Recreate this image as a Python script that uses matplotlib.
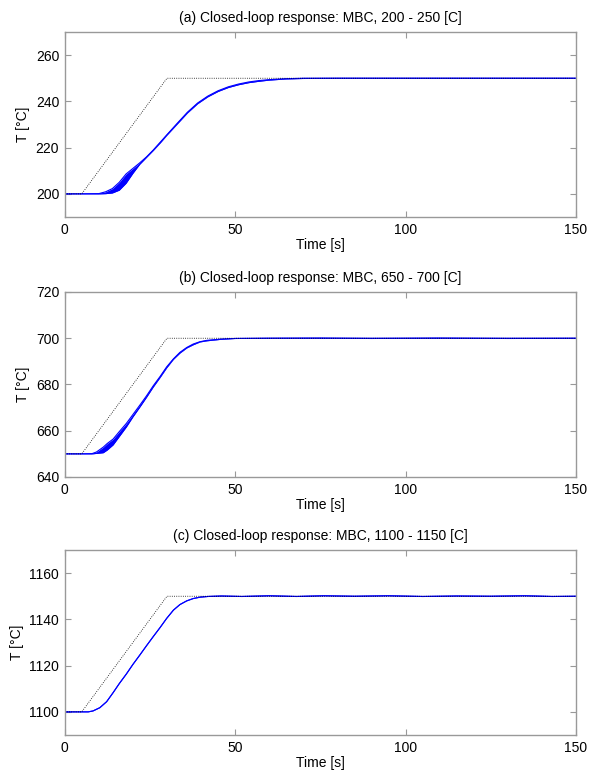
import numpy as np
from matplotlib import pyplot as plt

plt.rcParams['font.family'] = ['Liberation Sans', 'DejaVu Sans']

# reference ramp (setpoint)
ref_t = [0, 5, 30, 150]
ref_a = [200, 200, 250, 250]
ref_b = [650, 650, 700, 700]
ref_c = [1100, 1100, 1150, 1150]

# (a) 200 - 250: fast and slow edges of the response bundle
t_a = [0, 5, 10, 12, 14, 16, 18, 20, 22, 24, 26, 28, 30, 33, 36, 39, 42, 45,
       48, 51, 54, 57, 60, 65, 70, 80, 100, 120, 150]
fast_a = [200, 200, 200.1, 200.9, 202.3, 205, 208.6, 211, 213.4, 216, 219,
          222.3, 225.6, 230.5, 235.3, 239.3, 242.3, 244.6, 246.3, 247.5,
          248.4, 249, 249.4, 249.8, 250, 250, 250, 250, 250]
slow_a = [200, 200, 200, 200.1, 200.4, 201.6, 204.6, 208.9, 212.8, 215.8,
          218.8, 222, 225.4, 230.2, 235, 239, 242, 244.3, 246, 247.2, 248.1,
          248.7, 249.2, 249.7, 249.9, 250, 250, 250, 250]

# (b) 650 - 700
t_b = [0, 5, 8, 9.3, 11.3, 12.5, 14.2, 16, 18.1, 20, 22.1, 24, 26, 28, 29.9,
       31.9, 33.8, 35.8, 37.7, 39.7, 41.7, 45.6, 50, 60, 75, 90, 110, 130, 150]
fast_b = [650, 650, 650.1, 650.8, 652.9, 654.5, 656.4, 659.6, 663.2, 667,
          671.2, 675.1, 679.5, 683.5, 687.6, 691.1, 693.9, 696, 697.5, 698.5,
          699.1, 699.6, 699.9, 700, 700.1, 699.9, 700.1, 699.9, 700]
slow_b = [650, 650, 650, 650.2, 650.5, 651.7, 653.9, 657.5, 661.7, 666,
          670.4, 674.5, 679, 683.1, 687.2, 690.9, 693.6, 695.8, 697.2, 698.4,
          698.9, 699.5, 699.9, 700, 700, 700, 700, 700, 700]

# (c) 1100 - 1150
t_c = [0, 5, 6.9, 8.3, 10.3, 12.3, 14.2, 16, 18.1, 20, 22.1, 24, 26, 28, 29.9,
       31.9, 33.8, 35.8, 37.7, 39.7, 42, 46, 52, 60, 68, 76, 85, 95, 105,
       115, 125, 135, 143, 150]
resp_c = [1100, 1100, 1100, 1100.4, 1101.8, 1104.4, 1108.3, 1112.2, 1116.4,
          1120.5, 1124.7, 1128.6, 1132.6, 1136.5, 1140.4, 1144, 1146.4, 1148,
          1149, 1149.6, 1149.9, 1150.1, 1149.9, 1150.2, 1149.9, 1150.2,
          1150, 1150.2, 1149.9, 1150.1, 1150, 1150.2, 1149.9, 1150]

panels = [
    ('(a) Closed-loop response: MBC, 200 - 250 [C]', ref_a, t_a, fast_a, slow_a,
     (190, 270), [200, 220, 240, 260]),
    ('(b) Closed-loop response: MBC, 650 - 700 [C]', ref_b, t_b, fast_b, slow_b,
     (640, 720), [640, 660, 680, 700, 720]),
    ('(c) Closed-loop response: MBC, 1100 - 1150 [C]', ref_c, t_c, resp_c, resp_c,
     (1090, 1170), [1100, 1120, 1140, 1160]),
]

fig = plt.figure(figsize=(5.98, 7.74), dpi=100)
tops = [32, 292, 550]
W, H = 598.0, 774.0

for (title, ref, t, fast, slow, ylim, yticks), top in zip(panels, tops):
    ax = fig.add_axes([64.7 / W, 1 - (top + 185) / H, 511.3 / W, 185 / H])
    ax.fill_between(t, slow, fast, color='#0000ff', linewidth=0)
    ax.plot(t, fast, color='#0000ff', lw=0.8)
    ax.plot(t, slow, color='#0000ff', lw=0.8)
    ax.plot(ref_t, ref, color='black', lw=0.6, linestyle=':')
    ax.set_xlim(0, 150)
    ax.set_ylim(*ylim)
    ax.set_xticks([0, 50, 100, 150])
    ax.set_yticks(yticks)
    ax.tick_params(direction='in', top=True, right=True, length=4,
                   color='#999999', labelsize=10, pad=4)
    for s in ax.spines.values():
        s.set_color('#999999')
        s.set_linewidth(1.0)
    ax.set_title(title, fontsize=10, pad=7)
    ax.set_xlabel('Time [s]', fontsize=10, labelpad=1)
    ax.set_ylabel('T [°C]', fontsize=10, labelpad=4)

plt.savefig('out.png', dpi=100)
